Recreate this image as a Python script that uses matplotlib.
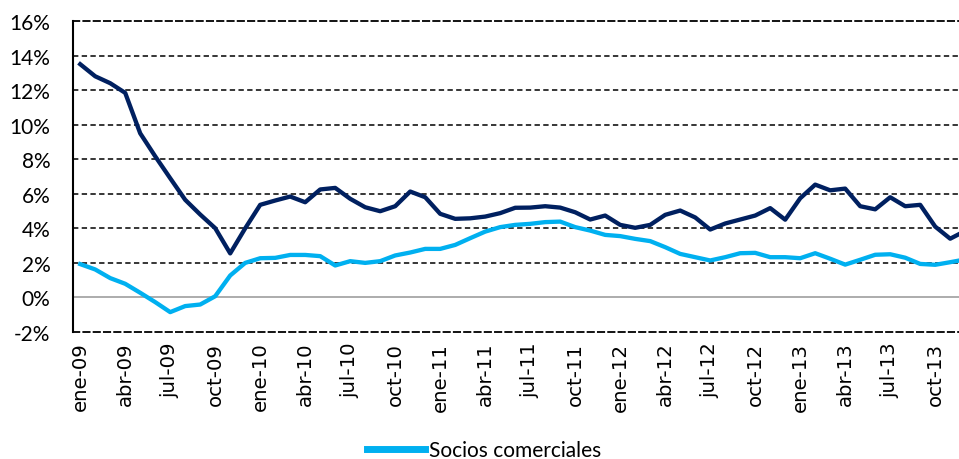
import numpy as np
import matplotlib
matplotlib.use("Agg")
import matplotlib.pyplot as plt
from matplotlib.ticker import FuncFormatter

DARK = "#002060"
LIGHT = "#00b0f0"

# monthly, ene-09 .. dic-13 (last month is cut off by the picture edge)
months = ["ene", "feb", "mar", "abr", "may", "jun", "jul", "ago", "sep", "oct", "nov", "dic"]
years = ["09", "10", "11", "12", "13"]
labels = [f"{m}-{y}" for y in years for m in months]

# dark series (legend entry not visible in the picture)
serie_oscura = [13.5, 12.8, 12.4, 11.84, 9.5, 8.17, 6.9, 5.65, 4.8, 4.01, 2.55, 4.0,
                5.36, 5.61, 5.84, 5.51, 6.25, 6.34, 5.71, 5.22, 4.99, 5.28, 6.13, 5.8,
                4.84, 4.55, 4.58, 4.68, 4.88, 5.19, 5.2, 5.28, 5.2, 4.93, 4.51, 4.74,
                4.2, 4.03, 4.2, 4.78, 5.03, 4.63, 3.93, 4.28, 4.51, 4.74, 5.17, 4.5,
                5.74, 6.53, 6.2, 6.3, 5.28, 5.1, 5.8, 5.28, 5.36, 4.1, 3.4, 3.85]
# Socios comerciales
socios = [1.93, 1.62, 1.12, 0.79, 0.27, -0.27, -0.85, -0.5, -0.41, 0.07, 1.27, 2.0,
          2.27, 2.29, 2.46, 2.46, 2.39, 1.85, 2.1, 2.0, 2.1, 2.43, 2.6, 2.81,
          2.81, 3.04, 3.43, 3.81, 4.07, 4.2, 4.26, 4.36, 4.39, 4.07, 3.87, 3.62,
          3.55, 3.39, 3.26, 2.91, 2.52, 2.33, 2.14, 2.33, 2.56, 2.58, 2.33, 2.33,
          2.27, 2.56, 2.24, 1.9, 2.18, 2.47, 2.5, 2.3, 1.94, 1.89, 2.04, 2.2]

yticks = list(range(-2, 17, 2))
DASH = (0, (3.5, 2.2))

fig = plt.figure(figsize=(9.59, 4.60), dpi=100)
# axes runs past the right edge of the figure, as in the original
ax = fig.add_axes([72.7 / 959, 127 / 460, 900 / 959, 311 / 460])

x = np.arange(len(labels))
for yv in yticks[1:-1]:
    if yv == 0:
        ax.axhline(0, color="#a6a6a6", lw=1.3, zorder=1)
    else:
        ax.axhline(yv, color="black", lw=1.1, ls=DASH, zorder=1)

ax.plot(x, serie_oscura, color=DARK, lw=3.1, solid_joinstyle="round", zorder=3)
ax.plot(x, socios, color=LIGHT, lw=3.1, solid_joinstyle="round", zorder=3,
        label="Socios comerciales")

ax.set_xlim(-0.5, len(labels) - 0.5)
ax.set_ylim(-2, 16)
ax.set_yticks(yticks)
ax.yaxis.set_major_formatter(FuncFormatter(lambda v, p: f"{v:.0f}%"))
ax.set_xticks(x[::3])
ax.set_xticklabels(labels[::3], rotation=90, fontsize=14.2, family="DejaVu Sans")
for t in ax.get_yticklabels():
    t.set_fontsize(15)
    t.set_family("Lato")
ax.tick_params(axis="y", length=0, pad=16)
ax.tick_params(axis="x", length=0, pad=7)

ax.spines["right"].set_visible(False)
for s in ["top", "bottom"]:
    ax.spines[s].set_color("black")
    ax.spines[s].set_linewidth(1.3)
    ax.spines[s].set_linestyle(DASH)
ax.spines["left"].set_color("black")
ax.spines["left"].set_linewidth(1.5)

leg = fig.legend(loc="center", bbox_to_anchor=(0.505, 0.02), frameon=False,
                 prop={"family": "Lato", "size": 15}, handlelength=2.8,
                 handletextpad=0.2)
for line in leg.get_lines():
    line.set_linewidth(5)

fig.savefig("out.png", dpi=100)
